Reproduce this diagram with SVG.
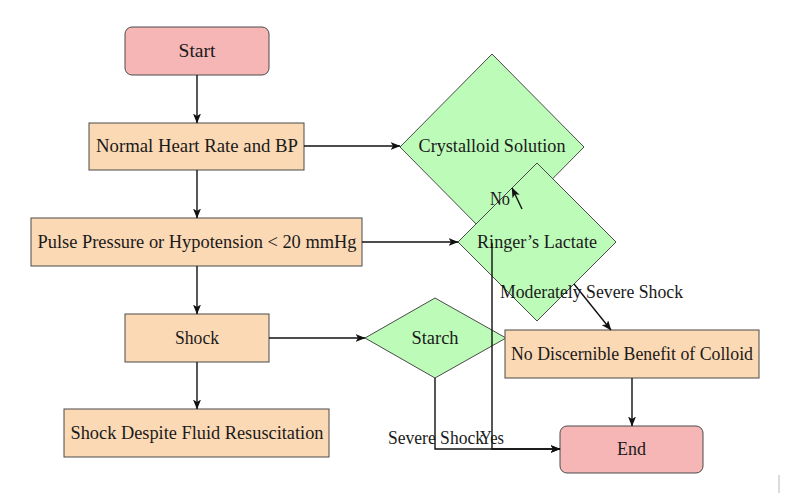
<svg xmlns="http://www.w3.org/2000/svg" width="786" height="504" viewBox="0 0 786 504">
<defs>
<style>
.t{font-family:"Liberation Serif","Times New Roman",serif;font-size:18px;fill:#1a1a1a;text-anchor:middle}
.term{fill:#f6b6b6;stroke:#4a4a4a;stroke-width:1}
.proc{fill:#fcd9b5;stroke:#4a4a4a;stroke-width:1}
.dec{fill:#bdfbb9;stroke:#4a4a4a;stroke-width:1}
.e{fill:none;stroke:#111;stroke-width:1.4}
</style>
<marker id="ar" markerWidth="10" markerHeight="8" refX="9.5" refY="4" orient="auto" markerUnits="userSpaceOnUse">
<path d="M0,0 L10,4 L0,8 L2.5,4 Z" fill="#111"/>
</marker>
</defs>
<rect width="786" height="504" fill="#fff"/>
<g id="start"><rect class="term" x="125" y="27" width="144" height="48" rx="7"/><text class="t" x="197" y="57" textLength="37" lengthAdjust="spacingAndGlyphs">Start</text></g>
<g id="normal"><rect class="proc" x="89" y="123" width="215" height="47"/><text class="t" x="197" y="152" textLength="202" lengthAdjust="spacingAndGlyphs">Normal Heart Rate and BP</text></g>
<g id="pulse"><rect class="proc" x="31" y="218" width="331" height="48"/><text class="t" x="197" y="248" textLength="319" lengthAdjust="spacingAndGlyphs">Pulse Pressure or Hypotension &lt; 20 mmHg</text></g>
<g id="shock"><rect class="proc" x="125" y="314" width="144" height="48"/><text class="t" x="197" y="344" textLength="44" lengthAdjust="spacingAndGlyphs">Shock</text></g>
<g id="despite"><rect class="proc" x="64" y="409" width="265" height="48"/><text class="t" x="197" y="439" textLength="253" lengthAdjust="spacingAndGlyphs">Shock Despite Fluid Resuscitation</text></g>
<g id="crystalloid"><polygon class="dec" points="492,54 584,147 492,240 400,147"/><text class="t" x="492" y="152" textLength="147" lengthAdjust="spacingAndGlyphs">Crystalloid Solution</text></g>
<g id="ringer"><polygon class="dec" points="537,163 616,242 537,321 458,242"/><text class="t" x="537" y="248" textLength="120" lengthAdjust="spacingAndGlyphs">Ringer’s Lactate</text></g>
<g id="starch"><polygon class="dec" points="435,298 506,338 435,378 365,338"/><text class="t" x="435" y="344" textLength="47" lengthAdjust="spacingAndGlyphs">Starch</text></g>
<g id="nobenefit"><rect class="proc" x="505" y="330" width="254" height="48"/><text class="t" x="632" y="360" textLength="242" lengthAdjust="spacingAndGlyphs">No Discernible Benefit of Colloid</text></g>
<g id="end"><rect class="term" x="560" y="426" width="143" height="47" rx="7"/><text class="t" x="631.5" y="455" textLength="29" lengthAdjust="spacingAndGlyphs">End</text></g>
<g id="connectors">
<line class="e" x1="197" y1="75" x2="197" y2="123" marker-end="url(#ar)"/>
<line class="e" x1="304" y1="146" x2="400" y2="146" marker-end="url(#ar)"/>
<line class="e" x1="197" y1="170" x2="197" y2="218" marker-end="url(#ar)"/>
<line class="e" x1="362" y1="242" x2="458" y2="242" marker-end="url(#ar)"/>
<line class="e" x1="197" y1="266" x2="197" y2="314" marker-end="url(#ar)"/>
<line class="e" x1="269" y1="338" x2="365" y2="338" marker-end="url(#ar)"/>
<line class="e" x1="197" y1="362" x2="197" y2="409" marker-end="url(#ar)"/>
<line class="e" x1="522" y1="209" x2="512" y2="188" marker-end="url(#ar)"/>
<line class="e" x1="574" y1="284" x2="611" y2="330" marker-end="url(#ar)"/>
<polyline class="e" points="435,378 435,449 560,449" marker-end="url(#ar)"/>
<polyline class="e" points="492,243 492,449 560,449" marker-end="url(#ar)"/>
<line class="e" x1="632" y1="378" x2="632" y2="426" marker-end="url(#ar)"/>
<text class="t" x="500" y="205" textLength="20" lengthAdjust="spacingAndGlyphs">No</text>
<text class="t" x="591.5" y="298" textLength="183" lengthAdjust="spacingAndGlyphs">Moderately Severe Shock</text>
<text class="t" x="436" y="444" textLength="96" lengthAdjust="spacingAndGlyphs">Severe Shock</text>
<text class="t" x="492" y="444" textLength="24" lengthAdjust="spacingAndGlyphs">Yes</text>
</g>
<rect x="778" y="475" width="2" height="18" fill="#dcdcdc"/>
</svg>
